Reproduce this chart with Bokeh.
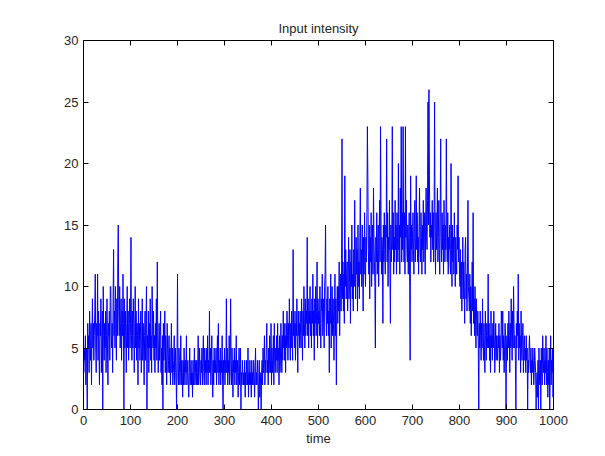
from bokeh.plotting import figure
from bokeh.models import LinearAxis, Range1d, FixedTicker
from bokeh.embed import file_html
from bokeh.resources import INLINE

title_text = "Input intensity"
x_label = "time"
x_ticks = [0, 100, 200, 300, 400, 500, 600, 700, 800, 900, 1000]
y_ticks = [0, 5, 10, 15, 20, 25, 30]

intensity = [
    3, 5, 4, 6, 2, 5, 4, 0, 7, 5, 6, 3, 8, 5, 4, 7, 2, 6, 9, 5,
    7, 4, 6, 8, 11, 5, 3, 7, 6, 11, 4, 8, 5, 2, 7, 6, 9, 3, 5, 8,
    0, 10, 6, 4, 7, 5, 8, 3, 6, 9, 5, 2, 7, 6, 8, 4, 10, 10, 6, 5,
    7, 3, 9, 13, 6, 8, 5, 10, 7, 4, 9, 6, 12, 15, 8, 6, 10, 5, 7, 9,
    4, 8, 6, 11, 7, 0, 9, 5, 8, 6, 3, 7, 10, 5, 8, 4, 6, 9, 5, 7,
    14, 6, 4, 8, 5, 9, 7, 3, 6, 10, 5, 8, 4, 7, 6, 2, 9, 5, 7, 4,
    6, 8, 3, 5, 9, 4, 7, 5, 2, 6, 8, 4, 7, 10, 0, 6, 5, 8, 3, 7,
    5, 9, 4, 6, 3, 10, 7, 5, 8, 4, 6, 3, 7, 5, 9, 4, 12, 6, 3, 5,
    7, 4, 6, 8, 3, 5, 2, 6, 0, 7, 4, 5, 8, 3, 6, 4, 2, 7, 5, 3,
    4, 6, 3, 5, 2, 4, 7, 3, 5, 2, 3, 4, 6, 2, 3, 5, 3, 0, 4, 11,
    3, 2, 5, 4, 2, 3, 6, 2, 4, 3, 1, 4, 2, 5, 3, 2, 4, 3, 6, 2,
    3, 4, 2, 1, 3, 5, 2, 3, 4, 2, 3, 1, 4, 2, 3, 5, 2, 3, 4, 2,
    4, 2, 3, 6, 2, 3, 5, 3, 2, 4, 3, 5, 2, 4, 6, 3, 2, 5, 3, 4,
    2, 5, 3, 6, 2, 4, 3, 8, 3, 5, 2, 4, 6, 3, 1, 4, 2, 5, 3, 4,
    3, 5, 2, 4, 6, 3, 7, 2, 4, 3, 5, 2, 4, 3, 6, 2, 0, 4, 3, 5,
    2, 4, 3, 9, 3, 5, 2, 4, 3, 6, 2, 3, 9, 4, 2, 5, 3, 1, 4, 3,
    5, 2, 4, 3, 6, 2, 3, 4, 1, 3, 5, 2, 4, 5, 0, 3, 2, 4, 3, 2,
    3, 2, 4, 1, 3, 2, 4, 3, 2, 5, 1, 3, 2, 4, 2, 3, 1, 4, 2, 3,
    2, 4, 3, 1, 3, 5, 2, 3, 2, 4, 3, 0, 2, 4, 1, 3, 2, 0, 3, 4,
    2, 5, 3, 4, 6, 2, 4, 3, 5, 7, 3, 4, 2, 5, 3, 6, 4, 3, 7, 2,
    5, 3, 4, 6, 2, 7, 4, 3, 5, 4, 6, 3, 7, 4, 5, 2, 6, 3, 4, 7,
    5, 3, 6, 4, 8, 5, 7, 4, 6, 3, 7, 5, 8, 6, 4, 7, 5, 9, 6, 4,
    7, 5, 8, 6, 4, 13, 6, 7, 5, 8, 4, 7, 6, 9, 5, 3, 8, 6, 7, 5,
    8, 6, 5, 9, 7, 4, 8, 6, 10, 7, 5, 9, 6, 8, 7, 14, 6, 9, 5, 8,
    7, 10, 6, 8, 5, 9, 7, 11, 6, 8, 4, 9, 7, 10, 6, 8, 12, 5, 9, 7,
    8, 6, 10, 7, 5, 9, 8, 11, 6, 7, 9, 5, 10, 11, 15, 8, 6, 9, 7, 10,
    6, 8, 3, 9, 7, 11, 5, 8, 10, 6, 9, 7, 4, 8, 11, 6, 9, 2, 8, 10,
    7, 10, 8, 12, 6, 9, 11, 8, 10, 22, 9, 12, 8, 11, 7, 19, 10, 13, 9, 11,
    12, 8, 10, 14, 9, 11, 13, 7, 12, 10, 15, 9, 11, 8, 13, 10, 17, 12, 9, 14,
    11, 13, 8, 15, 10, 12, 9, 14, 18, 11, 13, 10, 15, 12, 8, 14, 11, 16, 12, 10,
    14, 12, 16, 23, 19, 13, 11, 15, 9, 14, 12, 16, 10, 13, 15, 11, 18, 14, 12, 10,
    5, 14, 12, 16, 11, 13, 15, 10, 14, 17, 12, 23, 16, 11, 14, 13, 7, 15, 12, 16,
    13, 11, 15, 14, 22, 12, 16, 10, 14, 13, 17, 11, 7, 15, 12, 14, 23, 13, 16, 11,
    14, 12, 17, 13, 15, 11, 16, 14, 12, 20, 13, 15, 11, 18, 14, 23, 12, 16, 13, 23,
    15, 12, 16, 11, 23, 14, 17, 13, 12, 15, 11, 14, 16, 10, 4, 19, 13, 15, 12, 14,
    16, 13, 11, 15, 17, 12, 14, 19, 13, 16, 12, 14, 11, 15, 18, 13, 12, 16, 14, 11,
    15, 13, 17, 12, 14, 16, 11, 15, 18, 14, 13, 17, 25, 15, 26, 19, 14, 16, 12, 15,
    14, 17, 13, 16, 12, 15, 25, 14, 11, 16, 13, 15, 18, 12, 14, 17, 13, 11, 16, 22,
    14, 12, 16, 13, 15, 11, 17, 14, 12, 15, 13, 22, 14, 12, 16, 11, 14, 13, 15, 12,
    11, 20, 13, 10, 15, 12, 14, 11, 16, 13, 10, 14, 12, 11, 15, 13, 19, 12, 14, 11,
    10, 13, 9, 12, 8, 11, 14, 9, 12, 10, 7, 13, 14, 9, 11, 8, 12, 17, 10, 9,
    8, 11, 7, 10, 6, 9, 12, 8, 16, 7, 9, 6, 10, 8, 5, 9, 7, 6, 8, 5,
    0, 7, 5, 8, 6, 4, 7, 5, 9, 6, 4, 7, 5, 3, 8, 6, 4, 7, 5, 6,
    11, 5, 7, 4, 6, 3, 8, 5, 6, 4, 7, 5, 8, 6, 3, 5, 7, 4, 6, 5,
    4, 6, 5, 7, 3, 6, 4, 5, 8, 7, 5, 8, 4, 6, 3, 5, 7, 6, 0, 5,
    6, 4, 7, 5, 8, 6, 3, 7, 5, 9, 6, 4, 8, 5, 10, 7, 5, 6, 4, 0,
    7, 5, 8, 6, 11, 4, 7, 5, 6, 3, 8, 5, 4, 6, 7, 3, 5, 6, 4, 5,
    3, 6, 4, 5, 0, 4, 3, 5, 6, 4, 3, 5, 2, 4, 3, 5, 4, 2, 3, 5,
    4, 3, 0, 2, 3, 1, 4, 0, 5, 3, 2, 4, 0, 5, 3, 2, 6, 4, 3, 5,
    2, 4, 3, 6, 2, 5, 3, 1, 4, 2, 5, 0, 3, 6, 2, 4, 3, 5, 1, 3,
]
time = list(range(1, len(intensity) + 1))

FONT = "Liberation Sans"
TXT = "#262626"

p = figure(frame_width=470, frame_height=369,
           x_range=Range1d(0, 1000), y_range=Range1d(0, 30),
           output_backend="svg", toolbar_location=None,
           min_border_left=83, min_border_top=40,
           min_border_right=44, min_border_bottom=39,
           background_fill_color="white", border_fill_color="white")

p.line(time, intensity, line_color="#0000FF", line_width=1)

p.grid.visible = False
p.outline_line_color = "black"
p.outline_line_width = 1

p.title.text = title_text
p.title.align = "center"
p.title.text_font = FONT
p.title.text_font_size = "13px"
p.title.text_font_style = "normal"
p.title.text_color = TXT
p.title.standoff = 10

def style_axis(ax, ticks, labels=True):
    ax.ticker = FixedTicker(ticks=ticks)
    ax.axis_line_color = "black"
    ax.major_tick_line_color = "black"
    ax.major_tick_in = 5
    ax.major_tick_out = 0
    ax.minor_tick_line_color = None
    ax.major_label_text_font = FONT
    ax.major_label_text_color = TXT
    if labels:
        ax.major_label_text_font_size = "13px"
        ax.major_label_standoff = 6
    else:
        ax.major_label_overrides = {t: "" for t in ticks}
        ax.major_label_text_font_size = "1px"
        ax.major_label_standoff = 0

style_axis(p.xaxis[0], x_ticks)
style_axis(p.yaxis[0], y_ticks)
p.yaxis[0].major_label_standoff = 5
p.xaxis.axis_label = x_label
p.xaxis.axis_label_text_font = FONT
p.xaxis.axis_label_text_font_size = "13px"
p.xaxis.axis_label_text_font_style = "normal"
p.xaxis.axis_label_text_color = TXT
p.xaxis.axis_label_standoff = 3

top_ax = LinearAxis()
style_axis(top_ax, x_ticks, labels=False)
p.add_layout(top_ax, "above")
right_ax = LinearAxis()
style_axis(right_ax, y_ticks, labels=False)
p.add_layout(right_ax, "right")

open("out.html", "w").write(file_html(p, INLINE))
